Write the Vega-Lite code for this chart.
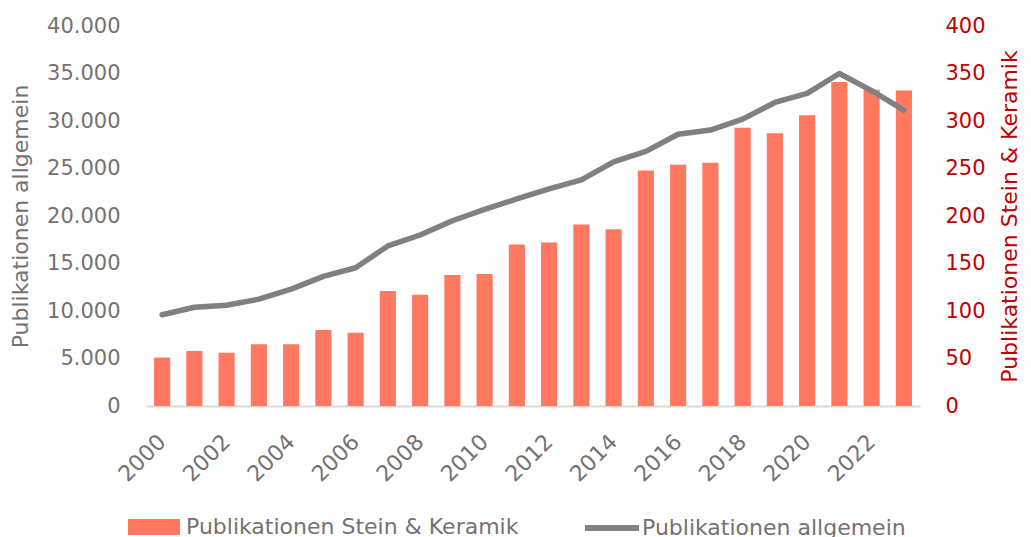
{
  "$schema": "https://vega.github.io/schema/vega-lite/v6.json",
  "width": 774,
  "height": 380,
  "autosize": {"type": "none"},
  "padding": {"left": 146, "top": 26, "right": 111, "bottom": 131},
  "background": "white",
  "data": {
    "values": [
      {"Jahr": 2000, "Stein": 51, "Allgemein": 9600},
      {"Jahr": 2001, "Stein": 58, "Allgemein": 10400},
      {"Jahr": 2002, "Stein": 56, "Allgemein": 10600},
      {"Jahr": 2003, "Stein": 65, "Allgemein": 11250},
      {"Jahr": 2004, "Stein": 65, "Allgemein": 12300},
      {"Jahr": 2005, "Stein": 80, "Allgemein": 13650},
      {"Jahr": 2006, "Stein": 77, "Allgemein": 14550},
      {"Jahr": 2007, "Stein": 121, "Allgemein": 16850},
      {"Jahr": 2008, "Stein": 117, "Allgemein": 18000},
      {"Jahr": 2009, "Stein": 138, "Allgemein": 19500},
      {"Jahr": 2010, "Stein": 139, "Allgemein": 20700},
      {"Jahr": 2011, "Stein": 170, "Allgemein": 21800},
      {"Jahr": 2012, "Stein": 172, "Allgemein": 22850},
      {"Jahr": 2013, "Stein": 191, "Allgemein": 23800},
      {"Jahr": 2014, "Stein": 186, "Allgemein": 25700},
      {"Jahr": 2015, "Stein": 248, "Allgemein": 26800},
      {"Jahr": 2016, "Stein": 254, "Allgemein": 28600},
      {"Jahr": 2017, "Stein": 256, "Allgemein": 29050},
      {"Jahr": 2018, "Stein": 293, "Allgemein": 30200},
      {"Jahr": 2019, "Stein": 287, "Allgemein": 31950},
      {"Jahr": 2020, "Stein": 306, "Allgemein": 32900},
      {"Jahr": 2021, "Stein": 341, "Allgemein": 35000},
      {"Jahr": 2022, "Stein": 333, "Allgemein": 33200},
      {"Jahr": 2023, "Stein": 332, "Allgemein": 31150}
    ]
  },
  "encoding": {
    "x": {
      "field": "Jahr",
      "type": "ordinal",
      "scale": {"paddingInner": 0.5, "paddingOuter": 0.25},
      "axis": {
        "title": null,
        "values": [2000, 2002, 2004, 2006, 2008, 2010, 2012, 2014, 2016, 2018, 2020, 2022],
        "labelAngle": -45,
        "labelAlign": "right",
        "labelBaseline": "middle",
        "labelPadding": 32,
        "ticks": false,
        "domain": true,
        "domainColor": "#D9D9D9",
        "domainWidth": 2,
        "labelFont": "DejaVu Sans",
        "labelFontSize": 22,
        "labelColor": "#767171"
      }
    }
  },
  "layer": [
    {
      "mark": {"type": "bar"},
      "encoding": {
        "y": {
          "field": "Stein",
          "type": "quantitative",
          "scale": {"domain": [0, 400], "nice": false},
          "axis": {
            "orient": "right",
            "title": "Publikationen Stein & Keramik",
            "values": [0, 50, 100, 150, 200, 250, 300, 350, 400],
            "grid": false,
            "ticks": false,
            "domain": false,
            "labelPadding": 25,
            "labelFont": "DejaVu Sans",
            "labelFontSize": 21,
            "labelColor": "#C00000",
            "titleFont": "DejaVu Sans",
            "titleFontSize": 22,
            "titleFontWeight": "normal",
            "titleColor": "#C00000",
            "titleAngle": -90,
            "titleBaseline": "top",
            "titlePadding": 14
          }
        },
        "fill": {
          "datum": "Publikationen Stein & Keramik",
          "scale": {"range": ["#FF785F"]},
          "legend": {
            "title": null,
            "orient": "none",
            "legendX": -18,
            "legendY": 475,
            "padding": 0,
            "symbolType": "M-1,-0.3077H1V0.3077H-1Z",
            "symbolSize": 2704,
            "symbolStrokeWidth": 0,
            "labelOffset": 6,
            "labelFont": "DejaVu Sans",
            "labelFontSize": 22,
            "labelColor": "#767171",
            "labelLimit": 500
          }
        }
      }
    },
    {
      "mark": {"type": "line", "strokeWidth": 5.5, "strokeCap": "round", "strokeJoin": "round"},
      "encoding": {
        "y": {
          "field": "Allgemein",
          "type": "quantitative",
          "scale": {"domain": [0, 40000], "nice": false},
          "axis": {
            "orient": "left",
            "title": "Publikationen allgemein",
            "values": [0, 5000, 10000, 15000, 20000, 25000, 30000, 35000, 40000],
            "labelExpr": "replace(format(datum.value, ',d'), ',', '.')",
            "grid": false,
            "ticks": false,
            "domain": false,
            "labelPadding": 26,
            "labelFont": "DejaVu Sans",
            "labelFontSize": 21,
            "labelColor": "#767171",
            "titleFont": "DejaVu Sans",
            "titleFontSize": 22,
            "titleFontWeight": "normal",
            "titleColor": "#767171",
            "titlePadding": 14
          }
        },
        "stroke": {
          "datum": "Publikationen allgemein",
          "scale": {"range": ["#808080"]},
          "legend": {
            "title": null,
            "orient": "none",
            "legendX": 436,
            "legendY": 472,
            "padding": 0,
            "symbolType": "stroke",
            "symbolSize": 2916,
            "symbolStrokeWidth": 6,
            "labelOffset": 0,
            "labelFont": "DejaVu Sans",
            "labelFontSize": 22,
            "labelColor": "#767171",
            "labelLimit": 500
          }
        }
      }
    }
  ],
  "resolve": {"scale": {"y": "independent"}},
  "config": {"view": {"stroke": null}}
}
